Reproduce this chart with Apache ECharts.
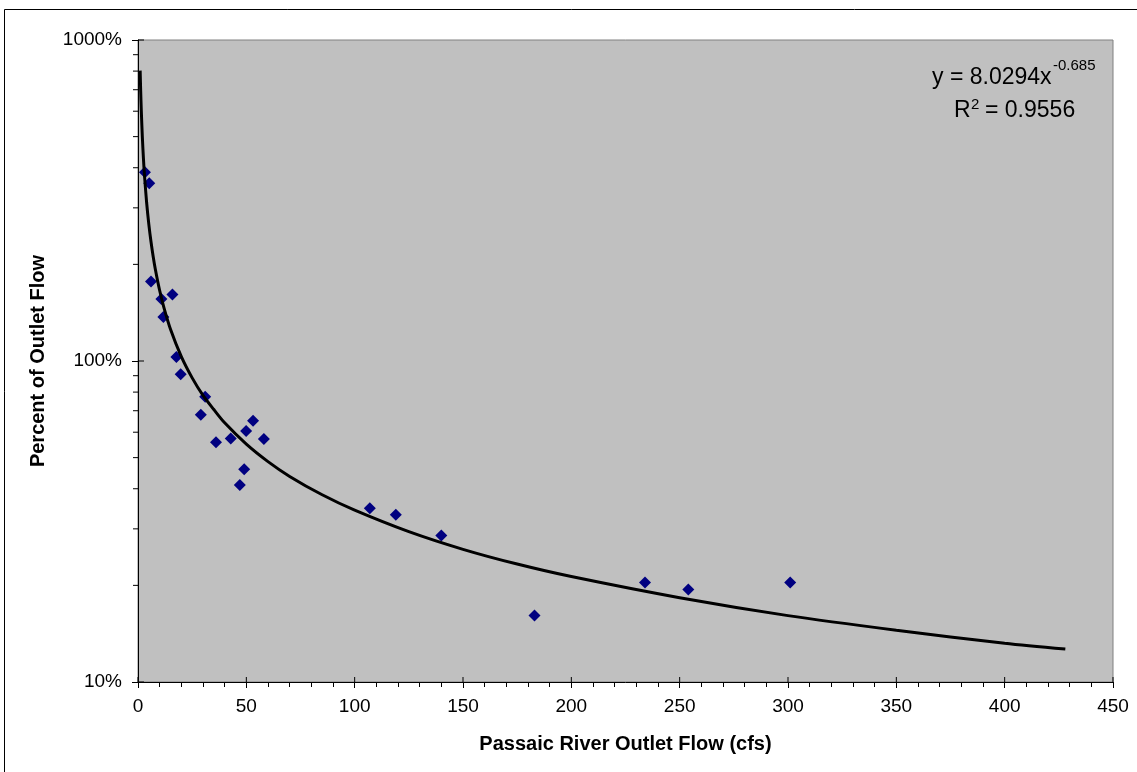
<!DOCTYPE html>
<html>
<head>
<meta charset="utf-8">
<script src="https://cdn.jsdelivr.net/npm/echarts@6/dist/echarts.min.js"></script>
<style>
html,body{margin:0;padding:0;background:#fff;}
#chart{width:1137px;height:772px;}
</style>
</head>
<body>
<div id="chart"></div>
<script>
// Observed data: outlet flow (cfs) vs percent of outlet flow
var flowCfs = [3.2, 5.2, 6.0, 10.8, 11.7, 15.9, 17.7, 19.7, 29, 31, 36, 42.8, 47, 49, 49.9, 53.1, 58.1, 107, 119, 140, 183, 234, 254, 301];
var percentFlow = [387, 358, 177, 156, 137, 161, 103, 91, 68, 77.4, 55.8, 57.4, 41.1, 46, 60.5, 65.2, 57.2, 34.8, 33.2, 28.6, 16.1, 20.4, 19.4, 20.4];

// Power trendline (y = 8.0294x^-0.685)
var trendX = [1, 1.1, 1.25, 1.5, 2, 2.5, 3, 4, 5, 6, 7, 8, 10, 12, 15, 20, 25, 30, 35, 40, 50, 60, 70, 85, 100, 125, 150, 175, 200, 250, 300, 350, 400, 428];
var trendY = [802.9, 752.2, 689.1, 608.2, 499.4, 428.6, 378.3, 310.6, 266.6, 235.3, 211.7, 193.2, 165.8, 146.4, 125.6, 103.2, 88.6, 78.1, 70.6, 64.2, 55.1, 48.6, 43.7, 38.3, 34.3, 29.4, 25.9, 23.3, 21.3, 18.3, 16.1, 14.5, 13.2, 12.66];

// Axis tick labels / minor ticks
var yMajorTicks = [10, 100, 1000];
var yMinorTicks = [20, 30, 40, 50, 60, 70, 80, 90, 200, 300, 400, 500, 600, 700, 800, 900];
var xMajorTicks = [0, 50, 100, 150, 200, 250, 300, 350, 400, 450];

var eqLine1 = 'y = 8.0294x';
var eqExp = '-0.685';
var eqR = 'R';
var eqRsup = '2';
var eqRval = '= 0.9556';

var xTitle = 'Passaic River Outlet Flow (cfs)';
var yTitle = 'Percent of Outlet Flow';

var FONT = '"Liberation Sans", Arial, sans-serif';

var scatterData = flowCfs.map(function (x, i) { return [x, percentFlow[i]]; });
var trendData = trendX.map(function (x, i) { return [x, trendY[i]]; });

var tickData = [];
yMinorTicks.forEach(function (v) { tickData.push({ value: [0, v], kind: 'yminor' }); });
yMajorTicks.forEach(function (v) { tickData.push({ value: [0, v], kind: 'ymajor' }); });
xMajorTicks.forEach(function (v) { tickData.push({ value: [v, 10], kind: 'xmajor' }); });

var chart = echarts.init(document.getElementById('chart'), null, { renderer: 'canvas' });

chart.setOption({
  backgroundColor: '#ffffff',
  animation: false,
  grid: {
    left: 138, top: 40, right: 24, bottom: 90,
    show: true,
    backgroundColor: '#C0C0C0',
    borderColor: '#808080',
    borderWidth: 1
  },
  xAxis: {
    type: 'value',
    min: 0, max: 450, interval: 50,
    name: xTitle,
    nameLocation: 'middle',
    nameGap: 52,
    nameTextStyle: { fontFamily: FONT, fontSize: 20, fontWeight: 'bold', color: '#000' },
    axisLine: { show: true, lineStyle: { color: '#000', width: 1 } },
    axisTick: { show: true, length: 6, lineStyle: { color: '#000' } },
    minorTick: { show: true, splitNumber: 5, length: 5, lineStyle: { color: '#000' } },
    splitLine: { show: false },
    minorSplitLine: { show: false },
    axisLabel: { fontFamily: FONT, fontSize: 19, color: '#000', margin: 15 }
  },
  yAxis: {
    type: 'log',
    logBase: 10,
    min: 10, max: 1000,
    interval: 1,
    name: yTitle,
    nameLocation: 'middle',
    nameGap: 90,
    nameTextStyle: { fontFamily: FONT, fontSize: 20, fontWeight: 'bold', color: '#000' },
    axisLine: { show: true, lineStyle: { color: '#000', width: 1 } },
    axisTick: { show: true, length: 6, lineStyle: { color: '#000' } },
    splitLine: { show: false },
    axisLabel: {
      fontFamily: FONT, fontSize: 19, color: '#000', margin: 16,
      formatter: function (v) { return Math.round(v) + '%'; }
    }
  },
  series: [
    {
      type: 'custom',
      name: 'ticks',
      coordinateSystem: 'cartesian2d',
      clip: false,
      silent: true,
      z: 5,
      data: tickData,
      renderItem: function (params, api) {
        var item = tickData[params.dataIndex];
        var p = api.coord(item.value);
        var shape;
        if (item.kind === 'yminor') {
          shape = { x1: p[0] - 5, y1: p[1], x2: p[0], y2: p[1] };
        } else if (item.kind === 'ymajor') {
          shape = { x1: p[0], y1: p[1], x2: p[0] + 6, y2: p[1] };
        } else {
          shape = { x1: p[0], y1: p[1] - 5, x2: p[0], y2: p[1] };
        }
        return {
          type: 'line',
          shape: shape,
          style: { stroke: '#000', lineWidth: 1 }
        };
      }
    },
    {
      type: 'scatter',
      name: 'Observed',
      data: scatterData,
      symbol: 'diamond',
      symbolSize: 12,
      itemStyle: { color: '#000080', opacity: 1 },
      z: 3
    },
    {
      type: 'line',
      name: 'Power trend',
      data: trendData,
      showSymbol: false,
      symbol: 'none',
      smooth: 0.3,
      lineStyle: { color: '#000', width: 3 },
      z: 4
    }
  ],
  graphic: [
    {
      type: 'rect',
      silent: true,
      z: -10,
      shape: { x: 4.5, y: 9.5, width: 1300, height: 900 },
      style: { fill: 'none', stroke: '#000', lineWidth: 1 }
    },
    {
      type: 'text', z: 100, x: 932, y: 78,
      style: { text: eqLine1, font: '23px ' + FONT, fill: '#000', textAlign: 'left', textVerticalAlign: 'middle' }
    },
    {
      type: 'text', z: 100, x: 1053, y: 66,
      style: { text: eqExp, font: '15px ' + FONT, fill: '#000', textAlign: 'left', textVerticalAlign: 'middle' }
    },
    {
      type: 'text', z: 100, x: 954, y: 111,
      style: { text: eqR, font: '23px ' + FONT, fill: '#000', textAlign: 'left', textVerticalAlign: 'middle' }
    },
    {
      type: 'text', z: 100, x: 971, y: 105,
      style: { text: eqRsup, font: '15px ' + FONT, fill: '#000', textAlign: 'left', textVerticalAlign: 'middle' }
    },
    {
      type: 'text', z: 100, x: 985, y: 111,
      style: { text: eqRval, font: '23px ' + FONT, fill: '#000', textAlign: 'left', textVerticalAlign: 'middle' }
    }
  ]
});
</script>
</body>
</html>
